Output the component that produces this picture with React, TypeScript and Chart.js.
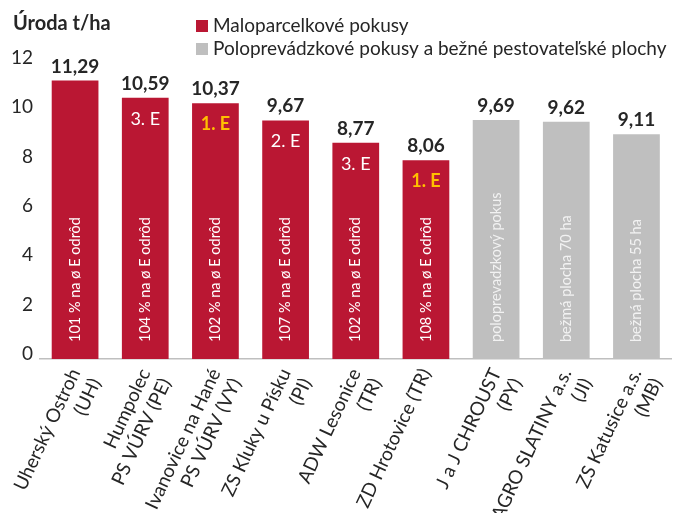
import React, { useEffect, useRef } from 'react';
import { Chart, registerables } from 'chart.js';

Chart.register(...registerables);

const FONT = 'Lato, "Open Sans", sans-serif';

const categories: (string | string[])[] = [
  ['Uherský Ostroh', '(UH)'],
  ['Humpolec', 'PS VÚRV (PE)'],
  ['Ivanovice na Hané', 'PS VÚRV (VY)'],
  ['ZS Kluky u Písku', '(PI)'],
  ['ADW Lesonice', '(TR)'],
  'ZD Hrotovice (TR)',
  ['J a J CHROUST', '(PY)'],
  ['AGRO SLATINY a.s.', '(JI)'],
  ['ZS Katusice a.s.', '(MB)'],
];

const smallPlotValues = [11.29, 10.59, 10.37, 9.67, 8.77, 8.06, null, null, null];
const fieldValues = [null, null, null, null, null, null, 9.69, 9.62, 9.11];

const rankLabels = ['', '3. E', '1. E', '2. E', '3. E', '1. E', '', '', ''];
const rankIsWinner = [false, false, true, false, false, true, false, false, false];

const noteLabels = [
  '101 % na ø E odrôd',
  '104 % na ø E odrôd',
  '102 % na ø E odrôd',
  '107 % na ø E odrôd',
  '102 % na ø E odrôd',
  '108 % na ø E odrôd',
  'poloprevadzkový pokus',
  'bežmá plocha 70 ha',
  'bežná plocha 55 ha',
];

const seriesNames = ['Maloparcelkové pokusy', 'Poloprevádzkové pokusy a bežné pestovateľské plochy'];
const seriesColors = ['#BA1733', '#BFBFBF'];
const yTitle = 'Úroda t/ha';
const yMin = 0;
const yMax = 12;
const yStep = 2;

const fmt = (v: number) => v.toFixed(2).replace('.', ',');

const labelPlugin = {
  id: 'customLabels',
  afterDatasetsDraw(chart: any) {
    const ctx = chart.ctx;
    ctx.save();
    chart.data.datasets.forEach((ds: any, di: number) => {
      const meta = chart.getDatasetMeta(di);
      meta.data.forEach((bar: any, i: number) => {
        const v = ds.data[i];
        if (v === null || v === undefined) return;
        ctx.fillStyle = '#262626';
        ctx.font = `bold 19px ${FONT}`;
        ctx.textAlign = 'center';
        ctx.textBaseline = 'alphabetic';
        ctx.fillText(fmt(v), bar.x, bar.y - 8);
        const r = rankLabels[i];
        if (r) {
          ctx.fillStyle = rankIsWinner[i] ? '#FFC000' : '#FFFFFF';
          ctx.font = `${rankIsWinner[i] ? 'bold ' : ''}18px ${FONT}`;
          ctx.fillText(r, bar.x, bar.y + 27);
        }
        const n = noteLabels[i];
        if (n) {
          ctx.save();
          ctx.translate(bar.x, bar.base - 17);
          ctx.rotate(-Math.PI / 2);
          ctx.fillStyle = di === 0 ? '#FFFFFF' : '#F2F2F2';
          ctx.font = `14.5px ${FONT}`;
          ctx.textAlign = 'left';
          ctx.textBaseline = 'middle';
          ctx.fillText(n, 0, 0);
          ctx.restore();
        }
      });
    });
    ctx.restore();
  },
  afterDraw(chart: any) {
    const ctx = chart.ctx;
    ctx.save();
    ctx.fillStyle = '#262626';
    ctx.font = `bold 20px ${FONT}`;
    ctx.textAlign = 'left';
    ctx.textBaseline = 'middle';
    ctx.fillText(yTitle, 13, 24);
    ctx.font = `19px ${FONT}`;
    seriesNames.forEach((name, i) => {
      const cy = 26 + i * 23;
      ctx.fillStyle = seriesColors[i];
      ctx.fillRect(196, cy - 6, 12, 12);
      ctx.fillStyle = '#262626';
      ctx.fillText(name, 213, cy);
    });
    ctx.restore();
  },
};

export default function App() {
  const ref = useRef<HTMLCanvasElement>(null);
  useEffect(() => {
    if (!ref.current) return;
    const chart = new Chart(ref.current, {
      type: 'bar',
      data: {
        labels: categories as any,
        datasets: [
          {
            label: seriesNames[0],
            data: smallPlotValues as any,
            backgroundColor: seriesColors[0],
            barPercentage: 0.666,
            categoryPercentage: 1,
          },
          {
            label: seriesNames[1],
            data: fieldValues as any,
            backgroundColor: seriesColors[1],
            barPercentage: 0.666,
            categoryPercentage: 1,
          },
        ],
      },
      options: {
        responsive: false,
        animation: false,
        devicePixelRatio: 1,
        events: [],
        layout: { padding: { top: 63, right: 4, left: 0, bottom: 0 } },
        plugins: { legend: { display: false }, tooltip: { enabled: false }, title: { display: false } },
        scales: {
          x: {
            stacked: true,
            grid: { display: false, drawTicks: false },
            border: { display: true, color: '#BFBFBF', width: 1.5 },
            ticks: {
              minRotation: 65,
              maxRotation: 65,
              autoSkip: false,
              padding: 6,
              color: '#262626',
              font: { family: FONT, size: 19 },
            },
            afterFit: (s: any) => {
              s.height = 154;
            },
          },
          y: {
            stacked: true,
            min: yMin,
            max: yMax,
            grid: { display: false, drawTicks: false },
            border: { display: false },
            ticks: {
              stepSize: yStep,
              padding: 7,
              labelOffset: -5,
              color: '#262626',
              font: { family: FONT, size: 19 },
            },
            afterFit: (s: any) => {
              s.width = 40;
            },
          },
        },
      },
      plugins: [labelPlugin],
    });
    return () => chart.destroy();
  }, []);
  return (
    <div style={{ position: 'absolute', left: 0, top: 0, width: 684, height: 513, background: '#fff' }}>
      <canvas ref={ref} width={684} height={513} style={{ display: 'block' }} />
    </div>
  );
}
